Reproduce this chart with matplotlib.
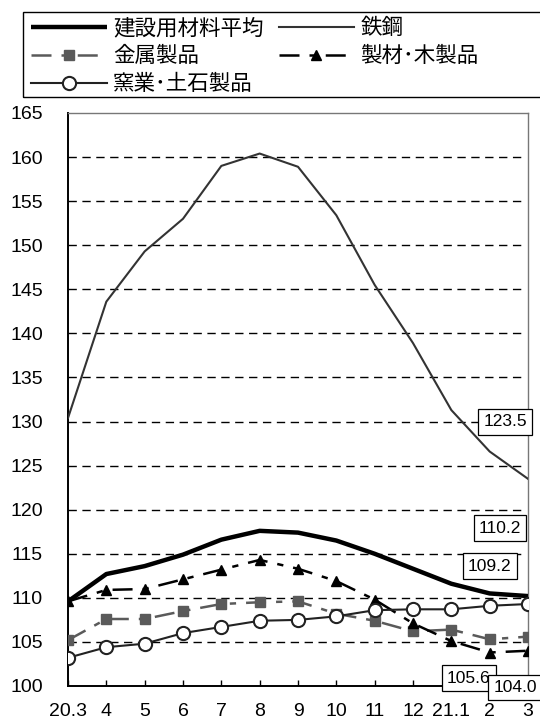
import matplotlib
matplotlib.use("Agg")
import matplotlib.pyplot as plt
from matplotlib.patches import Rectangle

plt.rcParams['font.family'] = ['Liberation Sans', 'Noto Sans CJK JP', 'DejaVu Sans']

x_labels = ["20.3", "4", "5", "6", "7", "8", "9", "10", "11", "12", "21.1", "2", "3"]
avg = [109.6, 112.7, 113.6, 114.9, 116.6, 117.6, 117.4, 116.5, 115.0, 113.3, 111.6, 110.5, 110.2]
steel = [130.4, 143.6, 149.3, 153.0, 159.0, 160.4, 158.9, 153.4, 145.5, 138.9, 131.3, 126.6, 123.5]
metal = [105.2, 107.6, 107.6, 108.5, 109.3, 109.5, 109.6, 108.2, 107.4, 106.2, 106.4, 105.3, 105.6]
lumber = [109.6, 110.9, 111.0, 112.1, 113.2, 114.3, 113.3, 111.9, 109.8, 107.1, 105.1, 103.8, 104.0]
ceramic = [103.2, 104.4, 104.8, 106.0, 106.7, 107.4, 107.5, 107.9, 108.6, 108.7, 108.7, 109.1, 109.3]
names = ["建設用材料平均", "鉄鋼", "金属製品", "製材･木製品", "窯業･土石製品"]
end_labels = ["123.5", "110.2", "109.2", "105.6", "104.0"]

W, H = 540, 722
fig = plt.figure(figsize=(W / 100, H / 100), dpi=100)
ax = fig.add_axes([68 / W, 1 - 686 / H, (528 - 68) / W, (686 - 113) / H])

xs = list(range(len(x_labels)))

for yv in range(105, 165, 5):
    ax.axhline(yv, color='black', lw=1.0, ls=(0, (6, 4)), zorder=1, xmax=0.987)

l_avg, = ax.plot(xs, avg, color='black', lw=3.2, zorder=3, solid_capstyle='butt')
l_steel, = ax.plot(xs, steel, color='#333333', lw=1.5, zorder=3)
l_metal, = ax.plot(xs, metal, color='#5a5a5a', lw=1.8, ls=(0, (8, 4, 2.5, 4)),
                   marker='s', ms=6.5, mfc='#5a5a5a', mec='#5a5a5a', zorder=4)
l_lumber, = ax.plot(xs, lumber, color='black', lw=1.8, ls=(0, (8, 4, 2.5, 4)),
                    marker='^', ms=7, mfc='black', mec='black', zorder=5)
l_cer, = ax.plot(xs, ceramic, color='#222222', lw=1.5, marker='o', ms=9.5,
                 mfc='white', mec='#222222', mew=1.5, zorder=6)

ax.set_xlim(0, 12)
ax.set_ylim(100, 165)
ax.set_yticks(range(100, 170, 5))
ax.set_xticks(xs)
ax.set_xticklabels(x_labels)
ax.tick_params(axis='y', length=0, pad=18, labelsize=14)
ax.tick_params(axis='x', direction='in', length=4.5, width=1, pad=12, labelsize=14)

for s in ['left', 'bottom']:
    ax.spines[s].set_color('black')
    ax.spines[s].set_linewidth(1.4)
for s in ['top', 'right']:
    ax.spines[s].set_color('#777777')
    ax.spines[s].set_linewidth(1.0)

box = dict(boxstyle='square,pad=0.3', fc='white', ec='black', lw=0.9)
label_pos = [(11.4, 129.95, 'center'), (11.27, 117.9, 'center'), (11.0, 113.6, 'center'),
             (10.45, 100.9, 'center'), (11.1, 99.8, 'left')]
for txt, (lx, ly, ha) in zip(end_labels, label_pos):
    ax.text(lx, ly, txt, fontsize=12.5, ha=ha, va='center', bbox=box, zorder=10, clip_on=False)

# legend
fig.patches.append(Rectangle((23 / W, 1 - 97 / H), (560 - 23) / W, (97 - 12) / H,
                             transform=fig.transFigure, fill=False, ec='black', lw=1.0))
handles = [l_avg, l_metal, l_cer, l_steel, l_lumber]
labels = [names[0], names[2], names[4], names[1], names[3]]
leg = fig.legend(handles, labels, loc='upper left', bbox_to_anchor=(27 / W, 1 - 14 / H),
                 ncol=2, frameon=False, fontsize=15.5, handlelength=3.5, handletextpad=0.3,
                 columnspacing=0.7, labelspacing=0.32, borderaxespad=0, borderpad=0.2)

fig.savefig("out.png", dpi=100)
